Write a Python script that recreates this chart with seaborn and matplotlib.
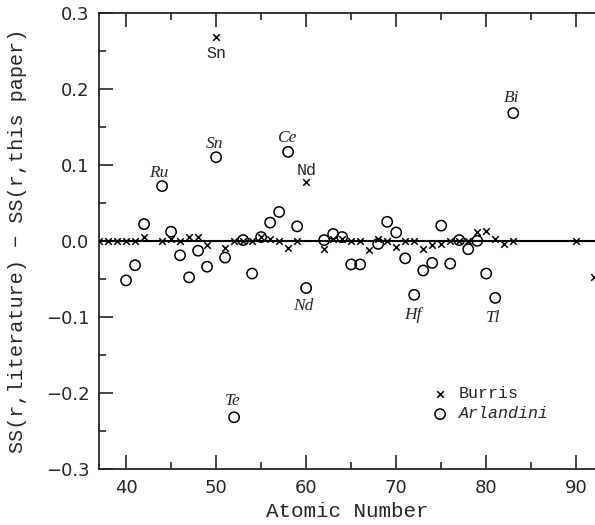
import numpy as np
import pandas as pd
import matplotlib
matplotlib.use('Agg')
import matplotlib.pyplot as plt
import seaborn as sns
from matplotlib.ticker import MultipleLocator

# Burris comparison (x markers)
burris_z = [37, 38, 39, 40, 41, 42, 44, 45, 46, 47, 48, 49, 50, 51, 52, 53, 54, 55, 56, 57, 58, 59, 60,
            62, 63, 64, 65, 66, 67, 68, 69, 70, 71, 72, 73, 74, 75, 76, 77, 78, 79, 80, 81, 82, 83, 90, 92]
burris_d = [0, 0, 0, 0, 0, 0.005, 0, 0.002, 0, 0.005, 0.005, -0.005, 0.268, -0.01, 0, 0, 0, 0.005, 0.003, 0, -0.01, 0, 0.077,
            -0.011, 0.003, 0.003, 0, 0, -0.012, 0.002, 0, -0.008, 0, 0, -0.011, -0.006, -0.004, 0, 0, 0, 0.011, 0.013, 0.002, -0.004, 0, 0, -0.048]

# Arlandini comparison (open circles)
arl_z = [40, 41, 42, 44, 45, 46, 47, 48, 49, 50, 51, 52, 53, 54, 55, 56, 57, 58, 59, 60,
         62, 63, 64, 65, 66, 68, 69, 70, 71, 72, 73, 74, 75, 76, 77, 78, 79, 80, 81, 83]
arl_d = [-0.052, -0.032, 0.022, 0.072, 0.012, -0.019, -0.048, -0.013, -0.034, 0.110, -0.022, -0.232, 0.001, -0.043, 0.005, 0.024, 0.038, 0.117, 0.019, -0.062,
         0.001, 0.009, 0.005, -0.031, -0.031, -0.004, 0.025, 0.011, -0.023, -0.071, -0.039, -0.029, 0.020, -0.030, 0.001, -0.011, 0.000, -0.043, -0.075, 0.168]

# element labels
burris_lab = ['Sn', 'Nd']
burris_lab_xy = [(50, 0.247), (60, 0.093)]
arl_lab = ['Ru', 'Sn', 'Ce', 'Nd', 'Te', 'Hf', 'Tl', 'Bi']
arl_lab_xy = [(43.6, 0.089), (49.8, 0.128), (57.85, 0.135), (59.7, -0.086),
              (51.8, -0.210), (71.8, -0.097), (80.75, -0.101), (82.8, 0.188)]

df_b = pd.DataFrame({'z': burris_z, 'd': burris_d})
df_a = pd.DataFrame({'z': arl_z, 'd': arl_d})

sns.set_style('ticks')
plt.rcParams['font.family'] = ['DejaVu Sans']

fig = plt.figure(figsize=(5.95, 5.25), dpi=100)
ax = fig.add_axes([0.1669, 0.1067, 0.8331, 0.8691])

ax.axhline(0, color='k', lw=1.5, zorder=1)
sns.scatterplot(data=df_b, x='z', y='d', marker='x', color='k', s=22, linewidth=1.1,
                label='Burris', ax=ax, zorder=3)
sns.scatterplot(data=df_a, x='z', y='d', marker='o', s=55, facecolors='none', edgecolor='k',
                linewidth=1.1, label='Arlandini', ax=ax, zorder=3)

for t, (x, y) in zip(burris_lab, burris_lab_xy):
    ax.text(x, y, t, ha='center', va='center', fontsize=12, family='Liberation Mono')
for t, (x, y) in zip(arl_lab, arl_lab_xy):
    ax.text(x, y, t, ha='center', va='center', fontsize=12.5, family='Liberation Serif', style='italic')

ax.set_xlim(37.03, 92.08)
ax.set_ylim(-0.3, 0.3)
ax.xaxis.set_major_locator(MultipleLocator(10))
ax.xaxis.set_minor_locator(MultipleLocator(5))
ax.yaxis.set_major_locator(MultipleLocator(0.1))
ax.yaxis.set_minor_locator(MultipleLocator(0.05))
ax.tick_params(which='both', direction='in', top=True, right=False, width=1.2, labelsize=13)
ax.tick_params(which='major', length=10, pad=7)
ax.tick_params(which='minor', length=5)
ax.spines['right'].set_visible(False)
for s in ['left', 'bottom', 'top']:
    ax.spines[s].set_linewidth(1.3)

ax.set_xlabel('Atomic Number', fontsize=15, family='Liberation Mono')
ax.set_ylabel('SS(r,literature) \u2212 SS(r,this paper)', fontsize=14.5, family='Liberation Mono')
ax.yaxis.set_label_coords(-0.145, 0.5)

leg = ax.legend(loc='center left', bbox_to_anchor=(0.7256, 0.2305), bbox_transform=fig.transFigure,
                frameon=False, handlelength=1, handletextpad=0.6, borderpad=0, borderaxespad=0,
                labelspacing=0.3, prop={'family': 'Liberation Mono', 'size': 12})
leg.get_texts()[1].set_style('italic')

fig.savefig('out.png', dpi=100)
